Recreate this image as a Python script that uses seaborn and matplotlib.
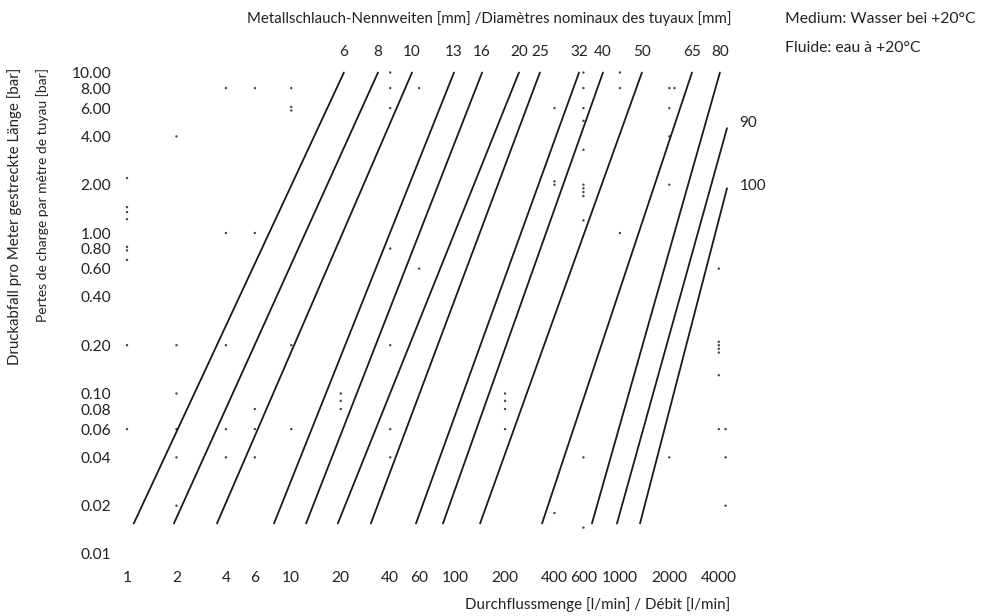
import numpy as np
import pandas as pd
import seaborn as sns
import matplotlib.pyplot as plt

# Nennweiten (DN) und Endpunkte der Druckverlust-Geraden (log-log)
dn_labels = ["6", "8", "10", "13", "16", "20", "25", "32", "40", "50", "65", "80", "90", "100"]
flow_start = [1.10, 1.93, 3.53, 7.85, 12.3, 19.2, 30.5, 57.4, 83.8, 141, 336, 676, 960, 1326]
flow_end = [20.9, 33.7, 54.3, 97.8, 145, 243, 326, 564, 789, 1362, 2747, 4064, 4487, 4487]
dp_start = [0.0155, 0.0155, 0.0155, 0.0155, 0.0155, 0.0155, 0.0155,
            0.0155, 0.0155, 0.0155, 0.0155, 0.0155, 0.0155, 0.0155]
dp_end = [10, 10, 10, 10, 10, 10, 10, 10, 10, 10, 10, 10, 4.5, 1.9]

# Achsenbeschriftungen
x_ticks = [1, 2, 4, 6, 10, 20, 40, 60, 100, 200, 400, 600, 1000, 2000, 4000]
y_ticks = [10, 8, 6, 4, 2, 1, 0.8, 0.6, 0.4, 0.2, 0.1, 0.08, 0.06, 0.04, 0.02, 0.01]

# Reste des Rasters (Punkte im Scan)
dot_flow = ([1] * 9 + [2] * 6 + [4] * 5 + [6] * 5 + [10] * 5 + [20] * 3 + [40] * 7
            + [60] * 2 + [200] * 4 + [400] * 4 + [600] * 12 + [1000] * 3
            + [2000] * 5 + [2150] + [4000] * 7 + [4400] * 3)
dot_dp = ([2.2, 1.45, 1.35, 1.22, 0.82, 0.78, 0.68, 0.2, 0.06]
          + [4, 0.2, 0.1, 0.06, 0.04, 0.02]
          + [8, 1, 0.2, 0.06, 0.04]
          + [8, 1, 0.08, 0.06, 0.04]
          + [8, 6.1, 5.8, 0.2, 0.06]
          + [0.1, 0.09, 0.08]
          + [10, 8, 6, 0.8, 0.2, 0.06, 0.04]
          + [8, 0.6]
          + [0.1, 0.09, 0.08, 0.06]
          + [6, 2.1, 2.0, 0.018]
          + [10, 8, 6, 5, 3.3, 2.0, 1.9, 1.8, 1.7, 1.2, 0.04, 0.0146]
          + [10, 8, 1]
          + [8, 6, 4, 2, 0.04]
          + [8]
          + [0.6, 0.21, 0.2, 0.19, 0.18, 0.13, 0.06]
          + [0.06, 0.04, 0.02])

W, H = 989, 616


def fx(px):
    return px / W


def fy(py):
    return 1 - py / H


sns.set_theme(style="white")
plt.rcParams["font.family"] = ["Lato", "DejaVu Sans"]

fig = plt.figure(figsize=(W / 100, H / 100), dpi=100)
ax = fig.add_axes([fx(118), fy(568), fx(760) - fx(118), (568 - 62) / H])
ax.set_xscale("log")
ax.set_yscale("log")

df = pd.DataFrame({
    "DN": dn_labels * 2,
    "Durchfluss": flow_start + flow_end,
    "Druckabfall": dp_start + dp_end,
})
sns.lineplot(data=df, x="Durchfluss", y="Druckabfall", units="DN",
             estimator=None, color="#1a1a1a", lw=1.3, ax=ax, legend=False)

dots = pd.DataFrame({"Durchfluss": dot_flow, "Druckabfall": dot_dp})
sns.scatterplot(data=dots, x="Durchfluss", y="Druckabfall", s=3,
                color="#444444", edgecolor="none", ax=ax, legend=False)

ax.set_xlim(0.8815, 7126)
ax.set_ylim(0.00818, 11.63)

ax.set_xticks(x_ticks)
ax.set_xticklabels([str(v) for v in x_ticks])
ax.set_yticks(y_ticks)
ax.set_yticklabels([f"{v:.2f}" for v in y_ticks])
ax.minorticks_off()
ax.tick_params(axis="both", length=0, labelsize=11.2, colors="#222222")
ax.tick_params(axis="y", pad=5)
ax.tick_params(axis="x", pad=2)
ax.set_xlabel("")
ax.set_ylabel("")
for s in ax.spines.values():
    s.set_visible(False)

# DN-Beschriftungen
for lab, q, p in zip(dn_labels, flow_end, dp_end):
    if lab == "90":
        ax.annotate(lab, (q, p), xytext=(9, 4), textcoords="offset points",
                    ha="left", va="center", fontsize=11, color="#222222")
    elif lab == "100":
        ax.annotate(lab, (q, p), xytext=(9, 2), textcoords="offset points",
                    ha="left", va="center", fontsize=11, color="#222222")
    else:
        ax.annotate(lab, (q, p), xytext=(0, 15), textcoords="offset points",
                    ha="center", va="center", fontsize=11, color="#222222")

tc = "#222222"
fig.text(fx(247), fy(19), "Metallschlauch-Nennweiten [mm] /Diamètres nominaux des tuyaux [mm]",
         ha="left", va="center", fontsize=10.8, color=tc)
fig.text(fx(785), fy(19), "Medium: Wasser bei +20°C", ha="left", va="center",
         fontsize=11.3, color=tc)
fig.text(fx(785), fy(48), "Fluide: eau à +20°C", ha="left", va="center",
         fontsize=11.3, color=tc)
fig.text(fx(730), fy(605), "Durchflussmenge [l/min] / Débit [l/min]",
         ha="right", va="center", fontsize=10.9, color=tc)
fig.text(fx(15), fy(68), "Druckabfall pro Meter gestreckte Länge [bar]",
         rotation=90, ha="center", va="top", fontsize=10.8, color=tc)
fig.text(fx(43), fy(68), "Pertes de charge par mètre de tuyau [bar]",
         rotation=90, ha="center", va="top", fontsize=10.0, color=tc)

fig.savefig("out.png", dpi=100)
